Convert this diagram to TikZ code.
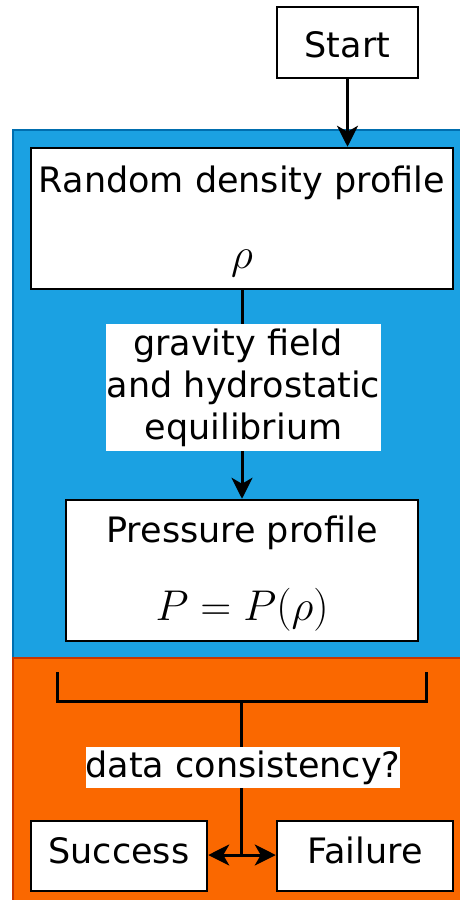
\RequirePackage{fix-cm}
\documentclass[tikz,border=0pt]{standalone}
\usepackage[no-math]{fontspec}
\setmainfont{DejaVu Sans}
\usetikzlibrary{arrows.meta}
\definecolor{bluefill}{HTML}{1BA1E2}
\definecolor{blueline}{HTML}{006EAF}
\definecolor{orangefill}{HTML}{FA6800}
\definecolor{orangeline}{HTML}{C73500}
\tikzset{
  box/.style={draw=black, fill=white, line width=2.5pt, rectangle, inner sep=0pt},
  txt/.style={anchor=base, inner sep=0pt, font=\fontsize{35}{42}\selectfont},
  mathtxt/.style={anchor=base, inner sep=0pt, font=\fontsize{43}{50}\selectfont},
  conn/.style={draw=black, line width=3pt},
  arr/.style={conn, -{Stealth[length=21pt,width=21pt,inset=6pt]}},
  lbl/.style={fill=white, inner sep=0pt, align=center, font=\fontsize{35}{42}\selectfont},
}
\begin{document}
\begin{tikzpicture}[x=1pt,y=-1pt]
\useasboundingbox (0,0) rectangle (459,900);
% background panels
\fill[bluefill] (13,130) rectangle (470,658);
\draw[blueline, line width=2pt] (470,130) -- (13,130) -- (13,658);
\fill[orangefill] (13,658) rectangle (470,910);
\draw[orangeline, line width=2pt] (13,910) -- (13,658) -- (470,658);
% boxes
\node[box, minimum width=141pt, minimum height=71pt] (start) at (347.5,42.5) {};
\node[txt] (startt) at (347.5,57) {Start};
\node[box, minimum width=422pt, minimum height=141pt] (dens) at (242,218.5) {};
\node[txt] (denst) at (242,192) {Random density profile};
\node[mathtxt] (densm) at (242,268.5) {$\rho$};
\node[box, minimum width=352pt, minimum height=141pt] (press) at (242,570.5) {};
\node[txt] (presst) at (242,542) {Pressure profile};
\node[mathtxt] (pressm) at (242,620) {$P=P(\rho)$};
\node[box, minimum width=176pt, minimum height=70pt] (succ) at (119,856) {};
\node[txt] (succt) at (119,863) {Success};
\node[box, minimum width=176pt, minimum height=70pt] (fail) at (365,856) {};
\node[txt] (failt) at (365,863) {Failure};
% connectors
\draw[arr] (start.south) -- (start.south |- dens.north);
\draw[arr] (dens.south -| press.north) -- (press.north);
\node[lbl, minimum width=275pt, minimum height=127pt] (grav) at (243.5,387.5)
  {gravity field\hspace*{11pt}\\and hydrostatic\\equilibrium};
\coordinate (bl) at (57,672);
\coordinate (br) at (426,672);
\coordinate (bm) at (241,701);
\coordinate (split) at (241,855);
\draw[conn] (bl) -- (bl |- bm) -- (br |- bm) -- (br);
\draw[conn] (bm) -- (split);
\node[lbl, minimum width=314pt, minimum height=41pt] (data) at (243,767.5) {data consistency?};
\draw[arr] (split) -- (succ.east |- split);
\draw[arr] (split) -- (fail.west |- split);
\end{tikzpicture}
\end{document}
